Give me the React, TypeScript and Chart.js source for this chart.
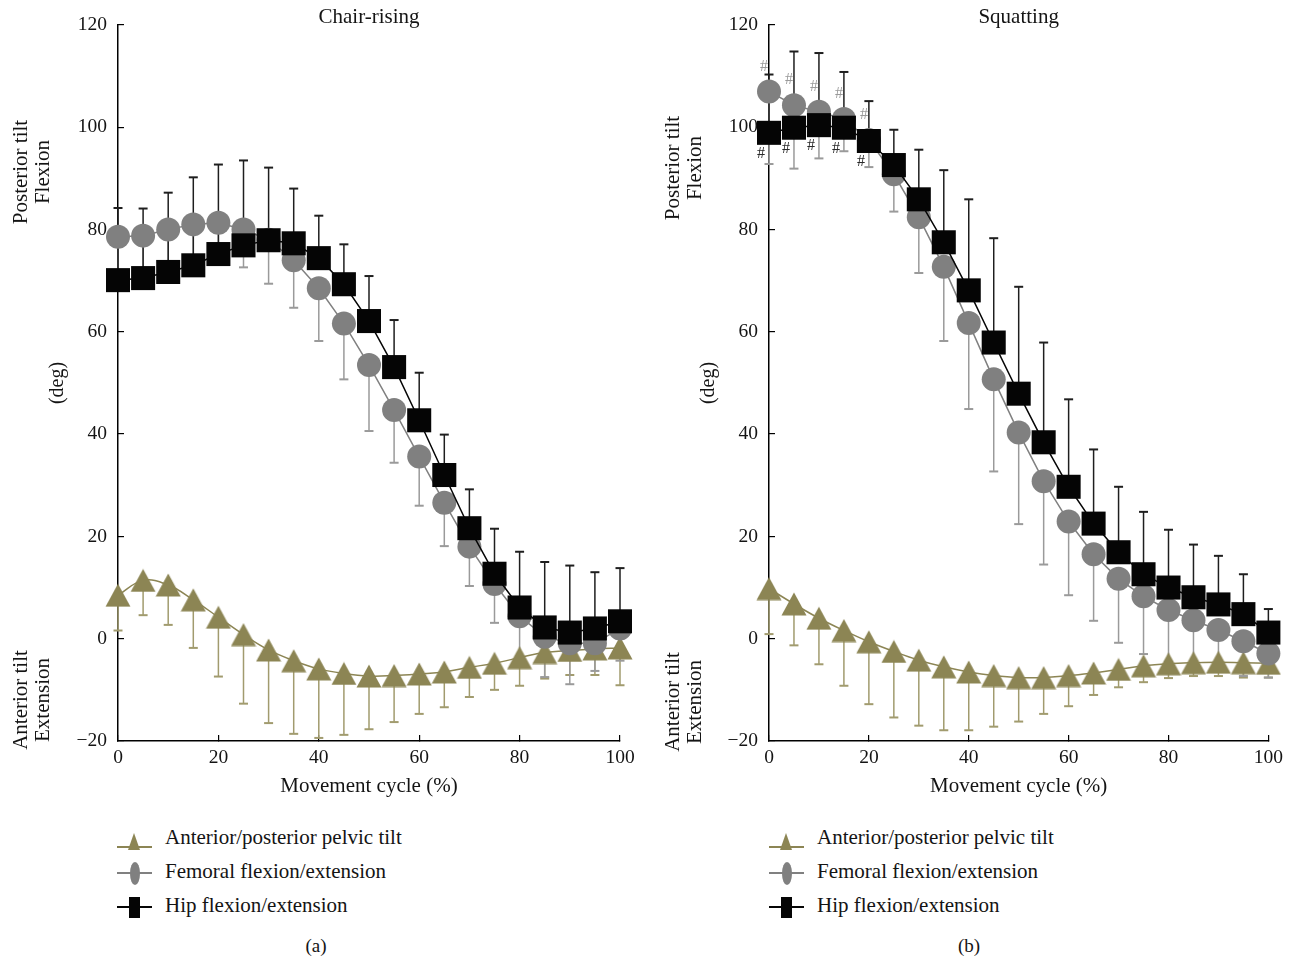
import React, { useEffect, useRef } from "react";
import { Chart, registerables } from "chart.js";

Chart.register(...registerables);

const FONT = "'Liberation Serif', 'Times New Roman', serif";
const TEXT = "#141414";

// ---------- data ----------
const cycle = [0, 5, 10, 15, 20, 25, 30, 35, 40, 45, 50, 55, 60, 65, 70, 75, 80, 85, 90, 95, 100];
const xTickValues = [0, 20, 40, 60, 80, 100];
const yTickValues = [-20, 0, 20, 40, 60, 80, 100, 120];
const seriesNames = ["Anterior/posterior pelvic tilt", "Femoral flexion/extension", "Hip flexion/extension"];
const panelTitles = ["Chair-rising", "Squatting"];
const panelCaptions = ["(a)", "(b)"];
const xAxisTitle = "Movement cycle (%)";
const yAxisTitle = "(deg)";
const upperSideLabel = ["Posterior tilt", "Flexion"];
const lowerSideLabel = ["Anterior tilt", "Extension"];

// Chair-rising
const chairHip = [70.1, 70.5, 71.7, 73.0, 75.2, 76.9, 77.9, 77.3, 74.4, 69.3, 62.1, 53.1, 42.7, 32.0, 21.6, 12.7, 6.1, 2.2, 1.2, 2.0, 3.4];
const chairHipUpper = [84.2, 84.1, 87.2, 90.2, 92.7, 93.5, 92.1, 88.0, 82.7, 77.1, 70.9, 62.3, 52.0, 39.9, 29.2, 21.5, 17.0, 15.0, 14.3, 13.0, 13.8];
const chairFemoral = [78.6, 78.8, 80.0, 81.0, 81.3, 80.0, 78.0, 74.0, 68.5, 61.6, 53.5, 44.7, 35.6, 26.6, 18.0, 10.7, 4.4, 0.4, -0.9, -0.9, 2.0];
const chairFemoralLower = [72.0, 72.0, 73.0, 74.0, 74.0, 72.6, 69.4, 64.7, 58.2, 50.7, 40.6, 34.4, 26.0, 18.1, 10.3, 3.1, -3.5, -7.5, -8.9, -6.3, -4.3];
const chairPelvic = [8.5, 11.4, 10.5, 7.6, 4.2, 0.8, -2.2, -4.3, -5.9, -6.8, -7.3, -7.2, -6.9, -6.5, -5.6, -4.8, -3.7, -2.7, -2.3, -2.0, -1.8];
const chairPelvicLower = [1.6, 4.6, 2.7, -1.8, -7.4, -12.7, -16.5, -18.6, -19.4, -18.8, -17.7, -16.3, -14.7, -13.4, -11.4, -10.0, -9.2, -7.8, -7.1, -7.1, -9.1];

// Squatting
const squatHip = [98.9, 99.9, 100.4, 99.9, 97.3, 92.6, 85.9, 77.5, 68.1, 57.9, 47.9, 38.4, 29.7, 22.5, 16.9, 12.6, 10.0, 8.1, 6.7, 4.8, 1.2];
const squatHipUpper = [110.3, 114.8, 114.5, 110.8, 105.1, 99.5, 95.6, 91.6, 85.9, 78.3, 68.8, 57.9, 46.8, 37.0, 29.7, 24.8, 21.3, 18.4, 16.2, 12.6, 5.8];
const squatFemoral = [107.0, 104.3, 103.0, 101.6, 97.5, 90.8, 82.4, 72.7, 61.7, 50.7, 40.3, 30.8, 22.9, 16.5, 11.7, 8.3, 5.6, 3.6, 1.7, -0.5, -2.9];
const squatFemoralLower = [92.8, 91.9, 93.9, 95.3, 92.2, 83.5, 71.5, 58.2, 44.9, 32.7, 22.4, 14.5, 8.5, 3.5, -0.8, -3.0, -4.5, -5.5, -6.5, -7.3, -7.6];
const squatPelvic = [9.8, 6.8, 4.0, 1.6, -0.6, -2.5, -4.2, -5.5, -6.5, -7.2, -7.6, -7.6, -7.2, -6.7, -6.0, -5.3, -4.9, -4.7, -4.6, -4.7, -4.8];
const squatPelvicLower = [0.9, -1.3, -5.0, -9.2, -12.8, -15.4, -17.0, -17.9, -17.9, -17.2, -16.2, -14.7, -13.2, -11.0, -9.5, -8.5, -7.7, -7.3, -7.3, -7.6, -7.6];
const squatSigFemoral = [0, 5, 10, 15, 20];
const squatSigHip = [0, 5, 10, 15, 20];

// ---------- styles ----------
const HIP = "#050505";
const HIP_BAR = "#1e1e1e";
const FEM = "#808080";
const FEM_BAR = "#9a9a9a";
const PEL = "#8c8554";
const PEL_BAR = "#a19b6e";

function makeTriangle(color: string) {
  const c = document.createElement("canvas");
  c.width = 26;
  c.height = 24;
  const g = c.getContext("2d")!;
  g.fillStyle = color;
  g.beginPath();
  g.moveTo(13, 0.5);
  g.lineTo(25.5, 23.5);
  g.lineTo(0.5, 23.5);
  g.closePath();
  g.fill();
  return c;
}

const errorBarsPlugin = {
  id: "errorBars",
  beforeDatasetsDraw(chart: any) {
    const { ctx } = chart;
    const xs = chart.scales.x;
    const ys = chart.scales.y;
    const sets = chart.data.datasets;
    for (let i = sets.length - 1; i >= 0; i--) {
      const ds: any = sets[i];
      if (!ds.errorEnds) continue;
      ctx.save();
      ctx.strokeStyle = ds.errorColor;
      ds.data.forEach((p: any, j: number) => {
        const px = xs.getPixelForValue(p.x);
        const py = ys.getPixelForValue(p.y);
        const ey = ys.getPixelForValue(ds.errorEnds[j]);
        ctx.lineWidth = 1.5;
        ctx.beginPath();
        ctx.moveTo(px, py);
        ctx.lineTo(px, ey);
        ctx.stroke();
        ctx.lineWidth = 2;
        ctx.beginPath();
        ctx.moveTo(px - 4.5, ey);
        ctx.lineTo(px + 4.5, ey);
        ctx.stroke();
      });
      ctx.restore();
    }
  },
};

const sigPlugin = {
  id: "sigMarks",
  afterDatasetsDraw(chart: any, _args: any, opts: any) {
    const groups = (opts && opts.groups) || [];
    const { ctx } = chart;
    const xs = chart.scales.x;
    const ys = chart.scales.y;
    ctx.save();
    ctx.font = `16px ${FONT}`;
    ctx.textAlign = "center";
    ctx.textBaseline = "middle";
    groups.forEach((g: any) => {
      const ds = chart.data.datasets[g.datasetIndex];
      ctx.fillStyle = g.color;
      g.at.forEach((xv: number) => {
        const p = ds.data.find((d: any) => d.x === xv);
        if (!p) return;
        ctx.fillText("#", xs.getPixelForValue(xv) + g.dx, ys.getPixelForValue(p.y) + g.dy);
      });
    });
    ctx.restore();
  },
};

const toPts = (vals: number[]) => cycle.map((x, i) => ({ x, y: vals[i] }));
const fmt = (v: number) => (v < 0 ? "\u2212" + Math.abs(v) : String(v));

type PanelProps = {
  left: number;
  width: number;
  padRight: number;
  title: string;
  hip: number[];
  hipUpper: number[];
  femoral: number[];
  femoralLower: number[];
  pelvic: number[];
  pelvicLower: number[];
  sigHip?: number[];
  sigFemoral?: number[];
};

function Panel(p: PanelProps) {
  const ref = useRef<HTMLCanvasElement | null>(null);
  useEffect(() => {
    if (!ref.current) return;
    const tri = makeTriangle(PEL);
    const font = (size: number) => ({ family: FONT, size, weight: "normal" as const });
    const chart = new Chart(ref.current, {
      type: "line",
      data: {
        datasets: [
          {
            label: seriesNames[2],
            data: toPts(p.hip),
            borderColor: HIP,
            borderWidth: 1.5,
            pointStyle: "rect",
            pointRadius: 17,
            pointBackgroundColor: HIP,
            pointBorderWidth: 0,
            tension: 0,
            clip: false,
            order: 0,
            errorEnds: p.hipUpper,
            errorColor: HIP_BAR,
          } as any,
          {
            label: seriesNames[1],
            data: toPts(p.femoral),
            borderColor: FEM,
            borderWidth: 1.5,
            pointStyle: "circle",
            pointRadius: 12,
            pointBackgroundColor: FEM,
            pointBorderWidth: 0,
            tension: 0,
            clip: false,
            order: 1,
            errorEnds: p.femoralLower,
            errorColor: FEM_BAR,
          } as any,
          {
            label: seriesNames[0],
            data: toPts(p.pelvic),
            borderColor: PEL,
            borderWidth: 1.5,
            pointStyle: tri,
            pointRadius: 12,
            pointBackgroundColor: PEL,
            pointBorderWidth: 0,
            tension: 0.4,
            clip: false,
            order: 2,
            errorEnds: p.pelvicLower,
            errorColor: PEL_BAR,
          } as any,
        ],
      },
      options: {
        responsive: false,
        animation: false,
        events: [],
        layout: { padding: { left: 0, right: p.padRight, top: 0, bottom: 0 } },
        plugins: {
          legend: { display: false },
          tooltip: { enabled: false },
          title: {
            display: true,
            text: p.title,
            fullSize: false,
            color: TEXT,
            font: { family: FONT, size: 21, weight: "normal", lineHeight: 0.9 },
            padding: { top: 8, bottom: -2 },
          },
          sigMarks: {
            groups: [
              { datasetIndex: 1, at: p.sigFemoral || [], color: "#9a9a9a", dx: -5, dy: -25 },
              { datasetIndex: 0, at: p.sigHip || [], color: "#2a2a2a", dx: -8, dy: 21 },
            ],
          },
        } as any,
        scales: {
          x: {
            type: "linear",
            min: 0,
            max: 100,
            afterBuildTicks: (s: any) => {
              s.ticks = xTickValues.map((v) => ({ value: v }));
            },
            afterFit: (s: any) => {
              s.height = 59;
            },
            border: { display: true, color: "#000", width: 1.5 },
            grid: { display: true, drawOnChartArea: false, drawTicks: true, tickLength: -6, color: "#000", lineWidth: 1.2 },
            ticks: { font: font(19.5), color: TEXT, padding: 11, maxRotation: 0, autoSkip: false, callback: (v: any) => fmt(Number(v)) },
            title: { display: true, text: xAxisTitle, color: TEXT, font: font(21), padding: { top: 0, bottom: 1 } },
          },
          y: {
            type: "linear",
            min: -20,
            max: 120,
            afterBuildTicks: (s: any) => {
              s.ticks = yTickValues.map((v) => ({ value: v }));
            },
            afterFit: (s: any) => {
              s.width = 118;
              s.paddingTop = 0;
              s.paddingBottom = 0;
            },
            border: { display: true, color: "#000", width: 1.5 },
            grid: { display: true, drawOnChartArea: false, drawTicks: true, tickLength: -6, color: "#000", lineWidth: 1.2 },
            ticks: { font: font(19.5), color: TEXT, padding: 17, autoSkip: false, callback: (v: any) => fmt(Number(v)) },
            title: { display: true, text: yAxisTitle, color: TEXT, font: font(20), padding: { top: 46, bottom: 0 } },
          },
        } as any,
      },
      plugins: [errorBarsPlugin as any, sigPlugin as any],
    });
    return () => chart.destroy();
  }, []);
  return (
    <canvas
      ref={ref}
      width={p.width}
      height={800}
      style={{ position: "absolute", left: p.left, top: 0, width: p.width, height: 800 }}
    />
  );
}

function SideLabel({ cx, cy, lines }: { cx: number; cy: number; lines: string[] }) {
  return (
    <div
      style={{
        position: "absolute",
        left: cx - 90,
        top: cy - 22,
        width: 180,
        height: 44,
        transform: "rotate(-90deg)",
        textAlign: "center",
        fontFamily: FONT,
        fontSize: 21,
        lineHeight: "22px",
        color: TEXT,
        whiteSpace: "nowrap",
      }}
    >
      {lines.map((l) => (
        <div key={l}>{l}</div>
      ))}
    </div>
  );
}

function Legend({ left }: { left: number }) {
  const rows = [
    { name: seriesNames[0], lineY: 847, textTop: 825, color: PEL, kind: "tri" },
    { name: seriesNames[1], lineY: 873, textTop: 859, color: FEM, kind: "ell" },
    { name: seriesNames[2], lineY: 907, textTop: 893, color: HIP, kind: "rect" },
  ];
  return (
    <>
      {rows.map((r) => (
        <React.Fragment key={r.name}>
          <div style={{ position: "absolute", left: left + 117, top: r.lineY - 0.75, width: 35, height: 1.5, background: r.color }} />
          {r.kind === "tri" && (
            <div
              style={{
                position: "absolute",
                left: left + 128,
                top: r.lineY - 14,
                width: 0,
                height: 0,
                borderLeft: "6.5px solid transparent",
                borderRight: "6.5px solid transparent",
                borderBottom: `17px solid ${r.color}`,
              }}
            />
          )}
          {r.kind === "ell" && (
            <div style={{ position: "absolute", left: left + 129.5, top: r.lineY - 11.5, width: 10, height: 23, borderRadius: "50%", background: r.color }} />
          )}
          {r.kind === "rect" && (
            <div style={{ position: "absolute", left: left + 129, top: r.lineY - 10.5, width: 11, height: 21, background: r.color }} />
          )}
          <div
            style={{
              position: "absolute",
              left: left + 165,
              top: r.textTop,
              fontFamily: FONT,
              fontSize: 21,
              lineHeight: "24px",
              color: TEXT,
              whiteSpace: "nowrap",
            }}
          >
            {r.name}
          </div>
        </React.Fragment>
      ))}
    </>
  );
}

export default function App() {
  return (
    <div style={{ position: "absolute", left: 0, top: 0, width: 1294, height: 962, background: "#fff", overflow: "hidden" }}>
      <Panel
        left={0}
        width={647}
        padRight={27}
        title={panelTitles[0]}
        hip={chairHip}
        hipUpper={chairHipUpper}
        femoral={chairFemoral}
        femoralLower={chairFemoralLower}
        pelvic={chairPelvic}
        pelvicLower={chairPelvicLower}
      />
      <Panel
        left={651}
        width={643}
        padRight={23}
        title={panelTitles[1]}
        hip={squatHip}
        hipUpper={squatHipUpper}
        femoral={squatFemoral}
        femoralLower={squatFemoralLower}
        pelvic={squatPelvic}
        pelvicLower={squatPelvicLower}
        sigHip={squatSigHip}
        sigFemoral={squatSigFemoral}
      />
      <SideLabel cx={31} cy={172} lines={upperSideLabel} />
      <SideLabel cx={31} cy={700} lines={lowerSideLabel} />
      <SideLabel cx={683} cy={168} lines={upperSideLabel} />
      <SideLabel cx={683} cy={702} lines={lowerSideLabel} />
      <Legend left={0} />
      <Legend left={652} />
      {panelCaptions.map((c, i) => (
        <div
          key={c}
          style={{
            position: "absolute",
            left: (i === 0 ? 316 : 969) - 30,
            top: 934,
            width: 60,
            textAlign: "center",
            fontFamily: FONT,
            fontSize: 19,
            lineHeight: "24px",
            color: TEXT,
          }}
        >
          {c}
        </div>
      ))}
    </div>
  );
}
